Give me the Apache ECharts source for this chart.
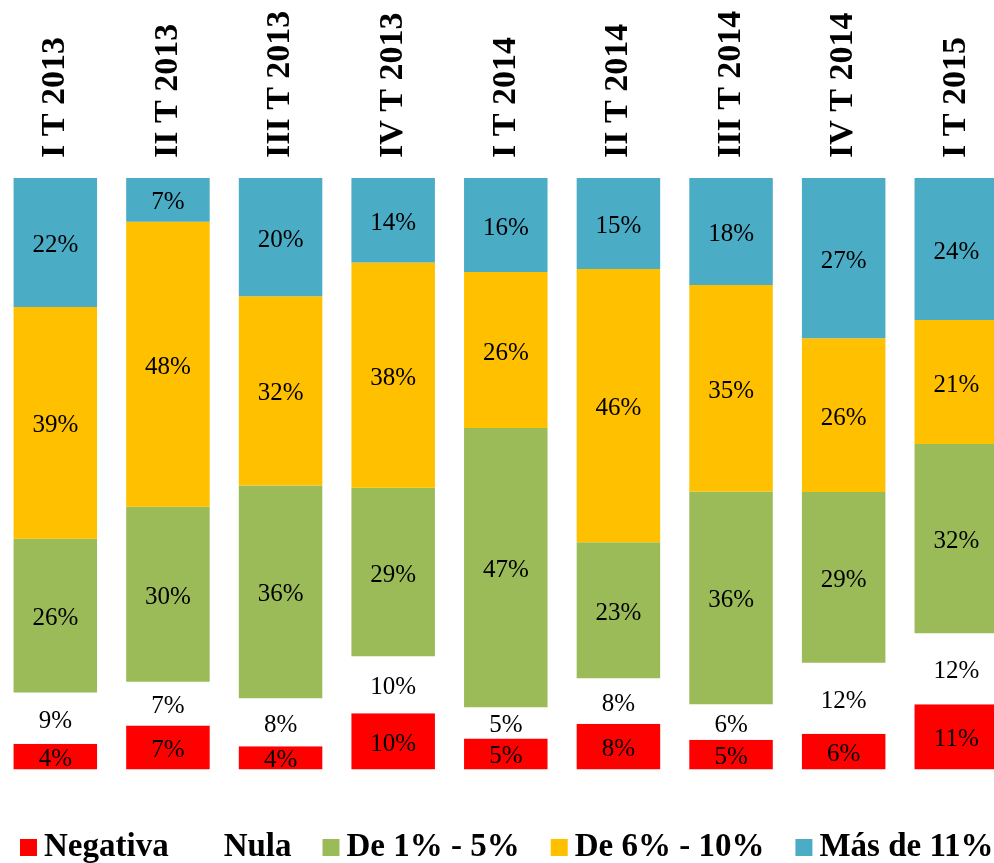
<!DOCTYPE html>
<html>
<head>
<meta charset="utf-8">
<script src="https://cdn.jsdelivr.net/npm/echarts@6/dist/echarts.min.js"></script>
<style>html,body{margin:0;padding:0;background:#fff;overflow:hidden;width:994px;height:863px;}#c{position:absolute;left:-1px;top:0;width:1016px;height:863px;}</style>
</head>
<body>
<div id="c"></div>
<script>
const categories = ['I T 2013','II T 2013','III T 2013','IV T 2013','I T 2014','II T 2014','III T 2014','IV T 2014','I T 2015'];
const seriesNames = ['Negativa','Nula','De 1% - 5%','De 6% - 10%','Más de 11%'];
const negativa = [4.3, 7.4, 3.9, 9.5, 5.2, 7.7, 5.0, 6.0, 11.0];
const nula     = [8.7, 7.4, 8.1, 9.6, 5.3, 7.7, 6.0, 12.0, 12.0];
const de1a5    = [26.0, 29.6, 36.0, 28.5, 47.2, 23.0, 36.0, 28.9, 32.0];
const de6a10   = [39.2, 48.2, 32.0, 38.1, 26.4, 46.2, 34.9, 26.0, 21.0];
const mas11    = [21.8, 7.4, 20.0, 14.3, 15.9, 15.4, 18.1, 27.1, 24.0];
const colors = ['#FF0000', '#FFFFFF', '#9BBB59', '#FFC000', '#4BACC6'];

const dataSets = [negativa, nula, de1a5, de6a10, mas11];
const font = '"Liberation Serif", "Times New Roman", serif';

const chart = echarts.init(document.getElementById('c'), null, {renderer: 'canvas'});
chart.setOption({
  animation: false,
  backgroundColor: '#ffffff',
  grid: {left: 0, width: 1013.6, top: 178, bottom: 93.7, containLabel: false},
  xAxis: {
    type: 'category',
    position: 'top',
    data: categories,
    axisLine: {show: false},
    axisTick: {show: false},
    axisLabel: {
      rotate: 90, margin: 20, interval: 0,
      fontFamily: font, fontWeight: 'bold', fontSize: 34, color: '#000'
    }
  },
  yAxis: {type: 'value', min: 0, max: 100, show: false},
  legend: {
    data: seriesNames,
    left: 16, top: 826,
    itemWidth: 17, itemHeight: 17, itemGap: 31,
    icon: 'rect',
    textStyle: {fontFamily: font, fontWeight: 'bold', fontSize: 33, color: '#000', padding: [0,0,0,2]}
  },
  series: dataSets.map((d, i) => ({
    name: seriesNames[i],
    type: 'bar',
    stack: 'total',
    barWidth: 83.5,
    data: d,
    itemStyle: {color: colors[i]},
    label: {
      show: true,
      position: 'inside',
      offset: [0, 3],
      fontFamily: font, fontSize: 25, color: '#000',
      formatter: p => Math.round(p.value) + '%'
    }
  }))
});
</script>
</body>
</html>
